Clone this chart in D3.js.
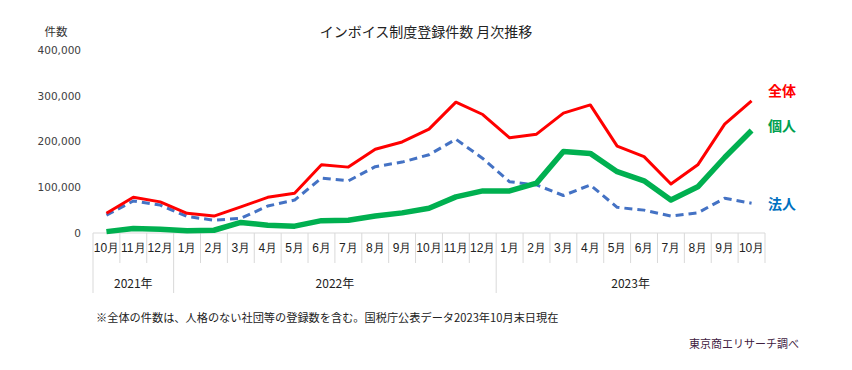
<!DOCTYPE html>
<html>
<head>
<meta charset="utf-8">
<script src="https://cdn.jsdelivr.net/npm/d3@7"></script>
<style>
  body { margin: 0; background: #fff; }
  svg { font-family: "Noto Sans CJK JP", "Noto Sans", sans-serif; }
</style>
</head>
<body>
<svg id="chart" width="852" height="370"></svg>
<script>
// months Oct 2021 .. Oct 2023
const months = ["10月","11月","12月","1月","2月","3月","4月","5月","6月","7月","8月","9月","10月","11月","12月",
                "1月","2月","3月","4月","5月","6月","7月","8月","9月","10月"];
const years = [
  { label: "2021年", start: 0, count: 3 },
  { label: "2022年", start: 3, count: 12 },
  { label: "2023年", start: 15, count: 10 }
];

const total = [43000, 78000, 68000, 43000, 37000, 57000, 78000, 87000, 149000, 144000, 183000, 199000, 227000,
               286000, 259000, 208000, 216000, 262000, 280000, 190000, 167000, 107000, 149000, 238000, 289000];
const corp = [39000, 70000, 61000, 36000, 28000, 32000, 59000, 72000, 120000, 114000, 145000, 155000, 171000,
              205000, 163000, 112000, 105000, 82000, 105000, 56000, 50000, 37000, 44000, 76000, 65000];
const indiv = [3000, 10000, 8000, 5000, 6000, 23000, 17000, 15000, 27000, 28000, 37000, 44000, 54000,
               79000, 92000, 92000, 109000, 178000, 174000, 134000, 114000, 72000, 101000, 165000, 224000];

const yTicks = [0, 100000, 200000, 300000, 400000];

const series = [
  { name: "法人", values: corp, color: "#4472c4", width: 3, dash: "8,5", labelColor: "#0070c0", labelY: 204 },
  { name: "個人", values: indiv, color: "#00b050", width: 5.5, dash: null, labelColor: "#00a050", labelY: 126 },
  { name: "全体", values: total, color: "#ff0000", width: 3, dash: null, labelColor: "#ff0000", labelY: 91 }
];

const svg = d3.select("#chart");
const plotL = 93, plotR = 765, plotT = 50, plotB = 233;

const x = d3.scaleBand().domain(d3.range(months.length)).range([plotL, plotR]).padding(0);
const y = d3.scaleLinear().domain([0, 400000]).range([plotB, plotT]);

// title
svg.append("text").attr("x", 426).attr("y", 37).attr("text-anchor", "middle")
  .attr("font-size", 14).attr("fill", "#222").text("インボイス制度登録件数 月次推移");

svg.append("text").attr("x", 56).attr("y", 36).attr("text-anchor", "middle")
  .attr("font-size", 11.5).attr("fill", "#333").text("件数");

// y axis
const yAxis = svg.append("g").attr("transform", `translate(${plotL},0)`)
  .call(d3.axisLeft(y).tickValues(yTicks).tickSize(0).tickPadding(12).tickFormat(d3.format(",")));
yAxis.select(".domain").remove();
yAxis.selectAll("text").attr("fill", "#404040")
  .attr("font-family", "'DejaVu Sans', sans-serif").attr("font-size", 10.5);

// x axis line
svg.append("line").attr("x1", plotL).attr("x2", plotR).attr("y1", plotB).attr("y2", plotB)
  .attr("stroke", "#d9d9d9");

// x separators
const yearStarts = years.map(d => d.start);
const seps = d3.range(months.length + 1);
svg.append("g").selectAll("line").data(seps).join("line")
  .attr("x1", i => i < months.length ? x(i) : plotR)
  .attr("x2", i => i < months.length ? x(i) : plotR)
  .attr("y1", plotB)
  .attr("y2", i => (yearStarts.includes(i)) ? 293 : 263)
  .attr("stroke", "#d9d9d9");

// month labels
const xAxis = svg.append("g").attr("transform", `translate(0,${plotB})`)
  .call(d3.axisBottom(x).tickSize(0).tickPadding(10).tickFormat(i => months[i]));
xAxis.select(".domain").remove();
xAxis.selectAll("text").attr("font-size", 12).attr("fill", "#222");

// year labels
svg.append("g").selectAll("text").data(years).join("text")
  .attr("x", d => x(d.start) + d.count * x.bandwidth() / 2)
  .attr("y", 288).attr("text-anchor", "middle")
  .attr("font-size", 12).attr("fill", "#222").text(d => d.label);

// lines
const line = d3.line().x((d, i) => x(i) + x.bandwidth() / 2).y(d => y(d));
svg.append("g").selectAll("path").data(series).join("path")
  .attr("d", d => line(d.values))
  .attr("fill", "none")
  .attr("stroke", d => d.color)
  .attr("stroke-width", d => d.width)
  .attr("stroke-dasharray", d => d.dash)
  .attr("stroke-linejoin", "round");

// series labels
svg.append("g").selectAll("text").data(series).join("text")
  .attr("x", 768).attr("y", d => d.labelY + 5)
  .attr("font-size", 14).attr("font-weight", "bold")
  .attr("fill", d => d.labelColor).text(d => d.name);

// notes
svg.append("text").attr("x", 96).attr("y", 322).attr("font-size", 11.2).attr("fill", "#222")
  .text("※全体の件数は、人格のない社団等の登録数を含む。国税庁公表データ2023年10月末日現在");
svg.append("text").attr("x", 689).attr("y", 348).attr("font-size", 11).attr("fill", "#402040")
  .text("東京商エリサーチ調べ");
</script>
</body>
</html>
